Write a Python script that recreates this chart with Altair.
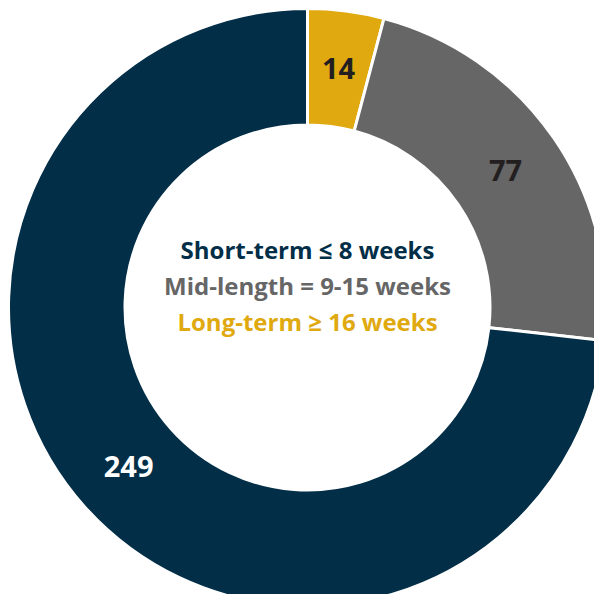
import altair as alt
import pandas as pd

categories = ["Long-term", "Mid-length", "Short-term"]
values = [14, 77, 249]
colors = ["#E0A910", "#666666", "#022E47"]
label_colors = ["#231F20", "#231F20", "#FFFFFF"]

legend_lines = ["Short-term \u2264 8 weeks", "Mid-length = 9-15 weeks", "Long-term \u2265 16 weeks"]
legend_colors = ["#022E47", "#666666", "#E0A910"]

df = pd.DataFrame({
    "cat": categories,
    "value": values,
    "idx": list(range(len(categories))),
    "lc": label_colors,
})
leg = pd.DataFrame({"line": legend_lines, "col": legend_colors, "row": list(range(len(legend_lines)))})

W = 586
CX = 299.5
base = alt.Chart(df).encode(
    theta=alt.Theta("value:Q", stack=True),
    order=alt.Order("idx:Q"),
    x=alt.value(CX),
    y=alt.value(CX),
)

arcs = base.mark_arc(outerRadius=299, innerRadius=182.5, stroke="white", strokeWidth=3).encode(
    color=alt.Color("cat:N", scale=alt.Scale(domain=categories, range=colors), legend=None),
)

labels = base.mark_text(radius=240, font="Open Sans", fontWeight="bold", fontSize=29).encode(
    text=alt.Text("value:Q"),
    color=alt.Color("lc:N", scale=None),
)

center = alt.Chart(leg).mark_text(font="Open Sans", fontWeight="bold", fontSize=24, baseline="middle").encode(
    x=alt.value(CX),
    y=alt.Y("row:Q", scale=alt.Scale(domain=[0, 2], range=[244, 316]), axis=None),
    text="line:N",
    color=alt.Color("col:N", scale=None),
)

chart = alt.layer(arcs, labels, center).properties(
    width=W, height=W, padding=0, autosize=alt.AutoSizeParams(type="none")
).configure_view(stroke=None)

chart.save("out.html", embed_options={"renderer": "svg", "actions": False})
